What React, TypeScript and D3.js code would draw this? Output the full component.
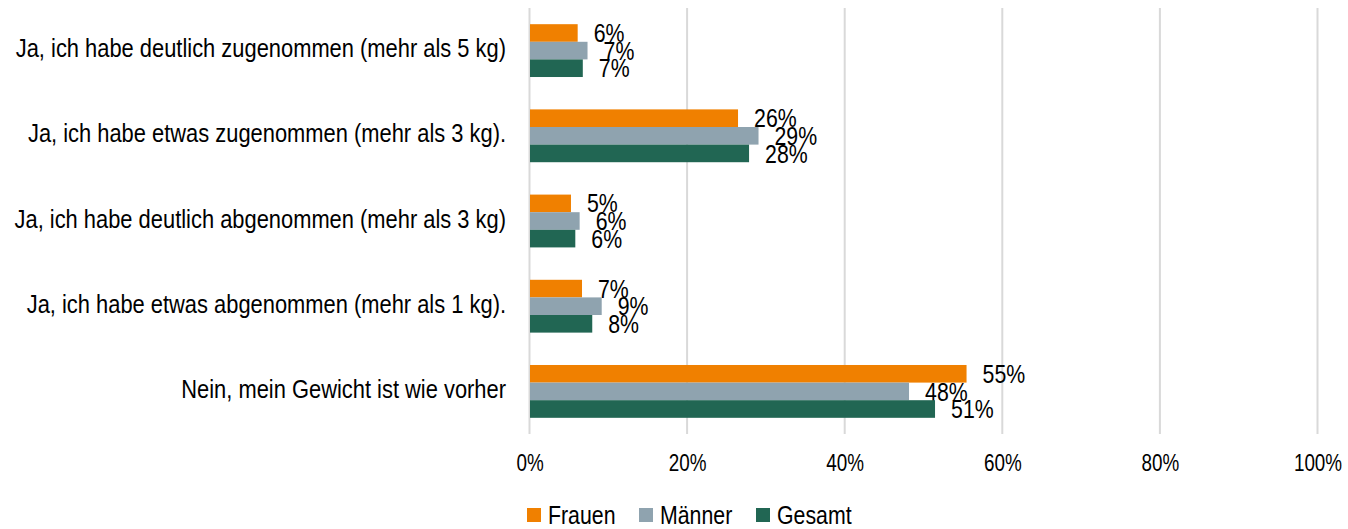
import React from "react";
import * as d3 from "d3";

const categories = [
  "Ja, ich habe deutlich zugenommen (mehr als 5 kg)",
  "Ja, ich habe etwas zugenommen (mehr als 3 kg).",
  "Ja, ich habe deutlich abgenommen (mehr als 3 kg)",
  "Ja, ich habe etwas abgenommen (mehr als 1 kg).",
  "Nein, mein Gewicht ist wie vorher",
];
const seriesNames = ["Frauen", "Männer", "Gesamt"];
const frauen = [6.05, 26.4, 5.2, 6.6, 55.4];
const maenner = [7.3, 29.0, 6.3, 9.1, 48.1];
const gesamt = [6.7, 27.8, 5.75, 7.9, 51.4];
const labelsFrauen = ["6%", "26%", "5%", "7%", "55%"];
const labelsMaenner = ["7%", "29%", "6%", "9%", "48%"];
const labelsGesamt = ["7%", "28%", "6%", "8%", "51%"];
const xTicks = [0, 20, 40, 60, 80, 100];
const colors = ["#F08000", "#8FA3AF", "#216653"];

const W = 1348;
const H = 529;
const FONT = "'Liberation Sans', Arial, sans-serif";
const NARROW = 0.82;

function NText({
  x,
  y,
  anchor = "start",
  size,
  dy = "0.35em",
  children,
}: {
  x: number;
  y: number;
  anchor?: string;
  size: number;
  dy?: string;
  children: React.ReactNode;
}) {
  return (
    <text
      transform={`translate(${x},${y}) scale(${NARROW},1)`}
      textAnchor={anchor as any}
      fontSize={size}
      dy={dy}
      fill="#000"
    >
      {children}
    </text>
  );
}

export default function App() {
  const series = [frauen, maenner, gesamt];
  const labels = [labelsFrauen, labelsMaenner, labelsGesamt];
  const x = d3.scaleLinear().domain([0, 100]).range([530, 1318]);
  const y = d3
    .scaleBand<string>()
    .domain(categories)
    .range([8, 434])
    .paddingInner(0.38)
    .paddingOuter(0.19);
  const ys = d3
    .scaleBand<string>()
    .domain(seriesNames)
    .range([0, y.bandwidth()]);
  const legendX = [527, 639, 756];

  return (
    <svg
      width={W}
      height={H}
      style={{ position: "absolute", left: 0, top: 0, background: "#fff" }}
      fontFamily={FONT}
    >
      {xTicks.map((t) => (
        <g key={t}>
          <line
            x1={x(t) - 0.5}
            x2={x(t) - 0.5}
            y1={8}
            y2={434}
            stroke="#D9D9D9"
            strokeWidth={2}
          />
          <NText x={x(t)} y={462.5} anchor="middle" size={23}>
            {t}%
          </NText>
        </g>
      ))}
      {categories.map((c, i) => (
        <g key={c}>
          <NText
            x={506}
            y={(y(c) as number) + y.bandwidth() / 2}
            anchor="end"
            size={26.7}
            dy="0.25em"
          >
            {c}
          </NText>
          {seriesNames.map((s, j) => {
            const v = series[j][i];
            const yy = (y(c) as number) + (ys(s) as number);
            return (
              <g key={s}>
                <rect
                  x={x(0)}
                  y={yy}
                  width={x(v) - x(0)}
                  height={ys.bandwidth()}
                  fill={colors[j]}
                />
                <NText x={x(v) + 16} y={yy + ys.bandwidth() / 2} size={26}>
                  {labels[j][i]}
                </NText>
              </g>
            );
          })}
        </g>
      ))}
      {seriesNames.map((s, j) => (
        <g key={s}>
          <rect x={legendX[j]} y={508} width={14} height={14} fill={colors[j]} />
          <NText x={legendX[j] + 21} y={515} size={26}>
            {s}
          </NText>
        </g>
      ))}
    </svg>
  );
}
